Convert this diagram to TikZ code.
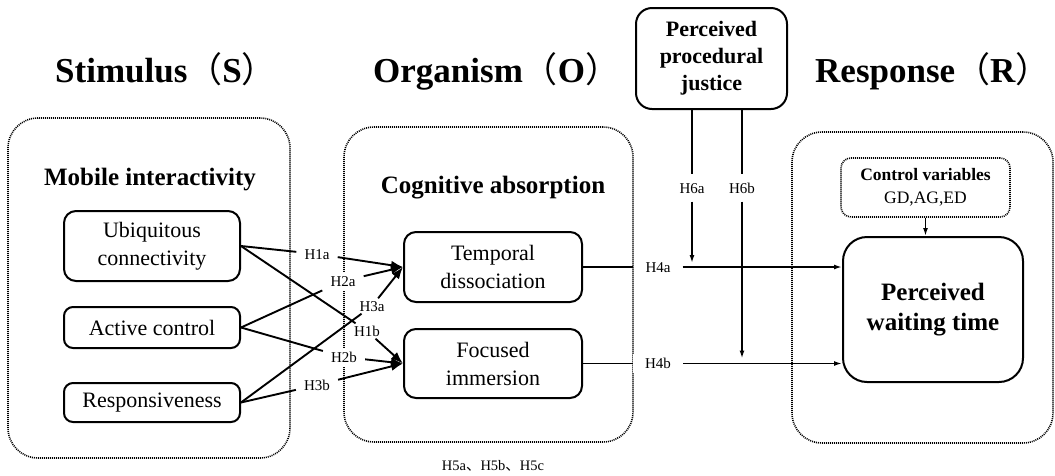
\documentclass[tikz,border=0pt]{standalone}
\usepackage{fontspec}
\setmainfont{Liberation Serif}
\newfontfamily\cjk{Noto Sans CJK SC}
\usetikzlibrary{arrows.meta}
\begin{document}
\begin{tikzpicture}[x=1pt,y=-1pt,
  grp/.style={draw, line width=1.6pt, dash pattern=on 1pt off 1pt, rounded corners=30pt, inner sep=0pt},
  box/.style={draw, line width=2pt, rounded corners=12pt, align=center, inner sep=0pt, font=\fontsize{22}{28}\selectfont},
  ttl/.style={font=\bfseries\fontsize{35}{40}\selectfont, anchor=base west, inner sep=0pt},
  hdr/.style={font=\bfseries\fontsize{25}{29}\selectfont, inner sep=0pt},
  hlab/.style={font=\fontsize{15}{17}\selectfont, fill=white, inner xsep=8pt, inner ysep=4pt, text height=10.5pt, text depth=0.5pt},
  conn/.style={line width=1.9pt},
  bigarr/.style={conn, -{Latex[length=12pt,width=9pt]}},
  smarr/.style={conn, -{Latex[length=8pt,width=5pt]}}
]
\useasboundingbox (0,0) rectangle (1055,475);
\fill[white] (0,0) rectangle (1055,475);

% titles
\node[ttl] (tS) at (55,82) {Stimulus{\cjk\mdseries（}S{\cjk\mdseries）}};
\node[ttl] (tO) at (373,82) {Organism{\cjk\mdseries（}O{\cjk\mdseries）}};
\node[ttl] (tR) at (815,82) {Response{\cjk\mdseries（}R{\cjk\mdseries）}};

% groups
\node[grp, minimum width=282pt, minimum height=340pt] (gS) at (149,288) {};
\node[grp, minimum width=289pt, minimum height=315pt] (gO) at (488.5,284.5) {};
\node[grp, minimum width=261pt, minimum height=311pt] (gR) at (922.5,287.5) {};

\node[hdr] (mi) at (150,180) {Mobile interactivity};
\node[hdr] (ca) at (493,188) {Cognitive absorption};

% boxes
\node[box, minimum width=176pt, minimum height=70pt] (ubi) at (152,246) {Ubiquitous\\connectivity};
\node[box, minimum width=176pt, minimum height=41pt, rounded corners=9pt] (ac) at (152,327.5) {Active control};
\node[box, minimum width=176pt, minimum height=39pt, rounded corners=9pt] (rs) at (152,402.5) {Responsiveness};
\node[box, minimum width=178pt, minimum height=70pt] (td) at (493,267) {Temporal\\dissociation};
\node[box, minimum width=178pt, minimum height=69pt] (fi) at (493,363.5) {Focused\\immersion};
\node[box, font=\bfseries\fontsize{22}{27}\selectfont, minimum width=151pt, minimum height=101pt, rounded corners=16pt] (pj) at (711.5,58.5) {Perceived\\procedural\\justice};
\node[box, font=\bfseries\fontsize{25}{30}\selectfont, minimum width=180pt, minimum height=145pt, rounded corners=24pt] (pw) at (933,309.5) {Perceived\\waiting time};
\node[draw, line width=1.6pt, dash pattern=on 1pt off 1pt, rounded corners=10pt, minimum width=169pt, minimum height=59pt, align=center, inner sep=0pt, font=\fontsize{17.5}{23}\selectfont] (cv) at (925.5,187.5) {{\bfseries Control variables}\\GD,AG,ED};

% hypothesis labels
\node[hlab] (h1a) at (317,254) {H1a};
\node[hlab] (h2a) at (343,281) {H2a};
\node[hlab, inner xsep=4pt, inner ysep=2pt] (h3a) at (372,306) {H3a};
\node[hlab, inner xsep=4pt, inner ysep=2pt] (h1b) at (367,331) {H1b};
\node[hlab] (h2b) at (344,357) {H2b};
\node[hlab] (h3b) at (317,385) {H3b};
\node[hlab, inner xsep=12pt] (h4a) at (658,267) {H4a};
\node[hlab, inner xsep=12pt] (h4b) at (658,363.5) {H4b};
\node[hlab, inner ysep=8pt] (h6a) at (692,188) {H6a};
\node[hlab, inner ysep=8pt] (h6b) at (742,188) {H6b};
\node[font=\fontsize{14.5}{17}\selectfont] (h5) at (493,466) {H5a{\cjk、}H5b{\cjk、}H5c};

% connectors S -> O
\draw[conn] (ubi.east) -- (h1a);
\draw[bigarr] (h1a) -- (td.west);
\draw[conn] (ubi.east) -- (h1b);
\draw[bigarr] (h1b) -- (fi.west);
\draw[conn] (ac.east) -- (h2a);
\draw[bigarr] (h2a) -- (td.west);
\draw[conn] (ac.east) -- (h2b);
\draw[bigarr] (h2b) -- (fi.west);
\draw[conn] (rs.east) -- (h3a);
\draw[bigarr] (h3a) -- (td.west);
\draw[conn] (rs.east) -- (h3b);
\draw[bigarr] (h3b) -- (fi.west);

% O -> R
\draw[conn] (td.east) -- (h4a);
\draw[smarr] (h4a) -- (h4a -| pw.west);
\draw[conn] (fi.east) -- (h4b);
\draw[smarr] (h4b) -- (h4b -| pw.west);

% moderator
\draw[conn] (pj.south -| h6a) -- (h6a);
\draw[smarr, shorten >=4pt] (h6a) -- (h6a |- h4a);
\draw[conn] (pj.south -| h6b) -- (h6b);
\draw[smarr, shorten >=5pt] (h6b) -- (h6b |- h4b);

% control
\draw[smarr] (cv.south) -- (cv.south |- pw.north);
\end{tikzpicture}
\end{document}
